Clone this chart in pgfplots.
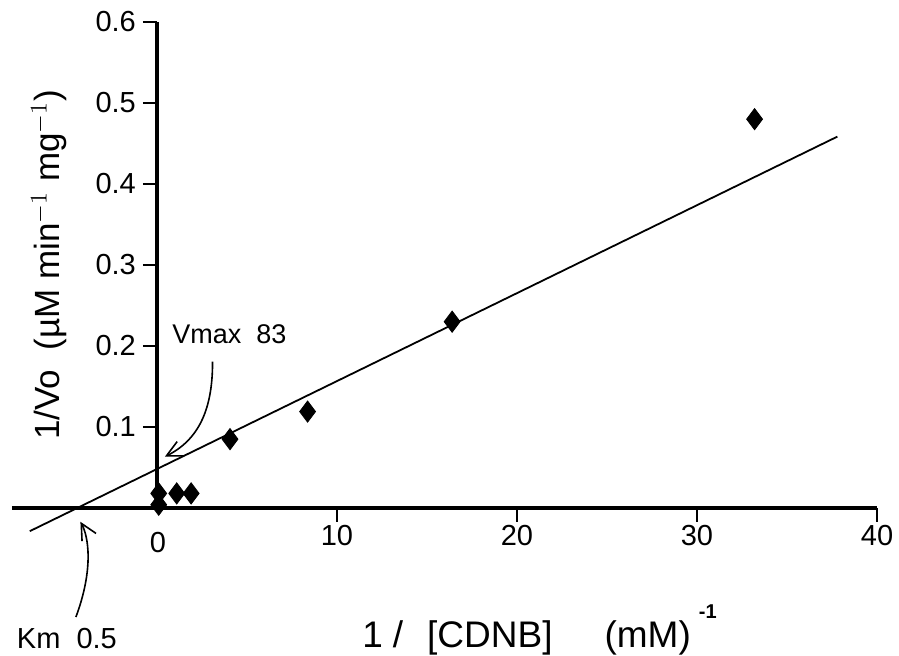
\documentclass[border=0pt]{standalone}
\usepackage{pgfplots}
\pgfplotsset{compat=1.18}
\usetikzlibrary{arrows.meta}
\usepackage{fontspec}
\setmainfont{Liberation Sans}
\begin{document}
\begin{tikzpicture}
\path[use as bounding box] (-6pt,-74pt) rectangle (443.5pt,254pt);
\begin{axis}[
  at={(0,0)}, anchor=south west,
  scale only axis, width=432.5pt, height=243pt,
  xmin=-8.05, xmax=40, ymin=0, ymax=0.6,
  axis lines=middle,
  axis line style={-, line width=1.6pt},
  every inner x axis line/.append style={-},
  every inner y axis line/.append style={-},
  tick align=outside,
  xtick={0,10,20,30,40}, xticklabels={0,10,20,30,40},
  ytick={0.1,0.2,0.3,0.4,0.5,0.6}, yticklabels={0.1,0.2,0.3,0.4,0.5,0.6},
  major tick length=7pt,
  tick style={line width=0.9pt, black},
  tick label style={font=\fontsize{14.5}{17}\selectfont},
  xticklabel style={yshift=2pt},
  clip=false,
  xlabel={1\hspace{5pt}/\hspace{12pt}[CDNB]\hspace{26pt}(mM)\hspace{4pt}\raisebox{14.5pt}{\fontsize{10}{12}\selectfont\bfseries -1}},
  xlabel style={at={(axis cs:11.39,-0.1728)}, anchor=base west, font=\fontsize{18.5}{21}\selectfont, inner sep=0pt},
  ylabel={1/Vo\ \ (µM min$^{-1}$ mg$^{-1}$)},
  ylabel style={at={(axis cs:-6.0,0.3)}, anchor=center, rotate=90, font=\fontsize{17.5}{20}\selectfont},
]
\addplot[black, line width=0.9pt] coordinates {(-7.06,-0.0286) (37.8,0.4585)};
\addplot[only marks, mark=diamond*, mark size=5.3pt, black] coordinates {
(0.1,0.004) (0.1,0.018) (1.1,0.018) (1.9,0.018) (4.06,0.085) (8.37,0.119) (16.4,0.23) (33.2,0.48)};
\node[font=\fontsize{14.5}{17}\selectfont, anchor=north] at (axis cs:0.05,-0.0215) {0};
\node[font=\fontsize{13.5}{16}\selectfont] at (axis cs:4.03,0.2144) {Vmax\ \ 83};
\node[font=\fontsize{14.5}{17}\selectfont] at (axis cs:-5.0,-0.1617) {Km\ \ 0.5};
\draw[line width=0.8pt, -{Straight Barb[length=8pt,width=8pt]}] (axis cs:3.09,0.1806) .. controls (axis cs:3.1,0.121) and (axis cs:2.3,0.084) .. (axis cs:0.44,0.0633);
\draw[line width=0.8pt, -{Straight Barb[length=8pt,width=8pt]}] (axis cs:-4.5,-0.1346) .. controls (axis cs:-3.5,-0.075) and (axis cs:-3.8,-0.035) .. (axis cs:-4.25,-0.017);
\end{axis}
\end{tikzpicture}
\end{document}
